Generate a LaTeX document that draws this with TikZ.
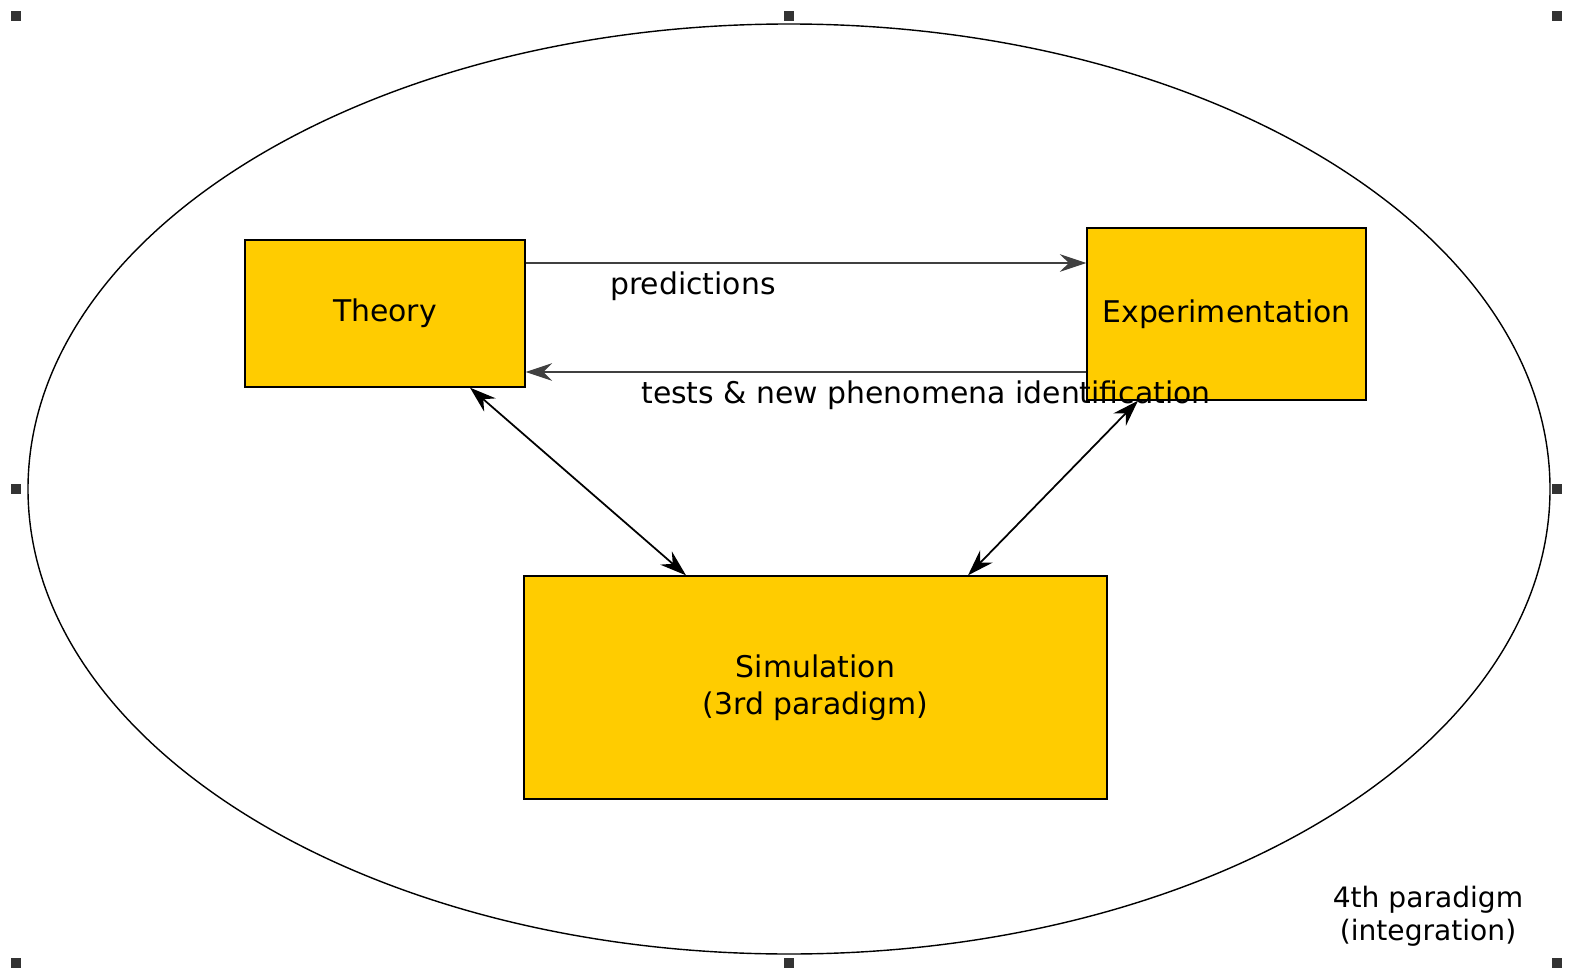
\documentclass[tikz,border=0pt]{standalone}
\usepackage{fontspec}
\setmainfont{DejaVu Sans}
\usetikzlibrary{arrows.meta}
\definecolor{boxyellow}{HTML}{FFCC00}
\definecolor{handlegray}{HTML}{333333}

\begin{document}
\begin{tikzpicture}[x=0.02cm, y=-0.02cm,
    box/.style={draw, line width=0.8pt, fill=boxyellow, inner sep=0pt,
        font=\fontsize{17}{21}\selectfont, align=center},
    flow/.style={-{Stealth[length=15pt, width=10pt, inset=5pt]}, line width=1pt, black!75},
    both/.style={{Stealth[length=15pt, width=10pt, inset=5pt]}-{Stealth[length=15pt, width=10pt, inset=5pt]}, line width=1pt},
    lbl/.style={font=\fontsize{17}{21}\selectfont, inner sep=0pt, align=center},
    handle/.style={fill=handlegray, inner sep=0pt, minimum size=0.2cm}]
    \useasboundingbox (0,0) rectangle (1571,973);

    % 4th paradigm
    \draw[line width=0.8pt] (789,489) ellipse [x radius=761, y radius=465];

    % ノード
    \node[box, minimum width=5.6cm, minimum height=2.94cm] (theory) at (385,313.5) {Theory};
    \node[box, minimum width=5.58cm, minimum height=3.44cm] (expt) at (1226.5,314) {Experimentation};
    \node[box, minimum width=11.66cm, minimum height=4.46cm] (sim) at (815.5,687.5) {Simulation\\(3rd paradigm)};

    % エッジ
    \draw[flow] (theory.east |- 0,263) -- (expt.west |- 0,263);
    \draw[flow] (expt.west |- 0,372) -- (theory.east |- 0,372);
    \draw[both] (theory.south -| 470,0) -- (sim.north -| 686,0);
    \draw[both] (expt.south -| 1138,0) -- (sim.north -| 968,0);

    % ラベル
    \node[lbl] (pred) at (693,286) {predictions};
    \node[lbl] (tests) at (926,395) {tests \& new phenomena identification};
    \node[lbl, font=\fontsize{16}{19}\selectfont] (fourth) at (1428,916) {4th paradigm\\(integration)};

    % ハンドル
    \node[handle] (h1) at (16,16) {};
    \node[handle] (h2) at (789,16) {};
    \node[handle] (h3) at (1557,16) {};
    \node[handle] (h4) at (16,489) {};
    \node[handle] (h5) at (1557,489) {};
    \node[handle] (h6) at (16,963) {};
    \node[handle] (h7) at (789,963) {};
    \node[handle] (h8) at (1557,963) {};
\end{tikzpicture}
\end{document}
